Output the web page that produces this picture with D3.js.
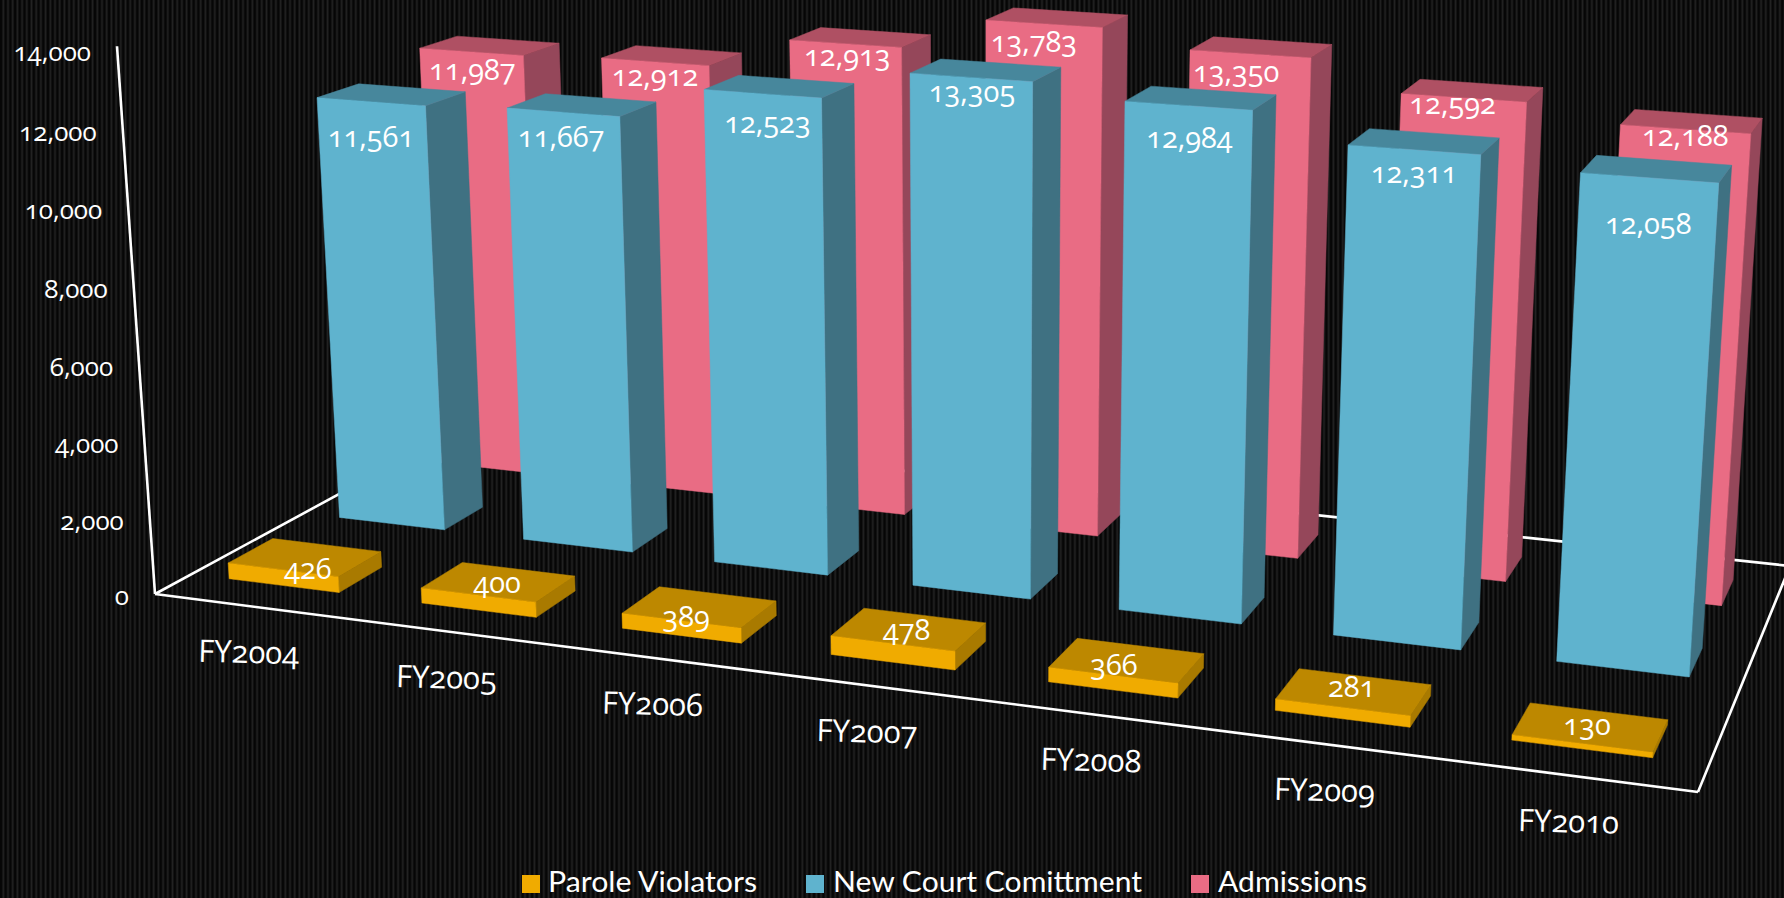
<!DOCTYPE html>
<html><head><meta charset="utf-8">
<script src="https://cdn.jsdelivr.net/npm/d3@7/dist/d3.min.js"></script>
<style>
html,body{margin:0;padding:0;background:#0a0a0a;overflow:hidden}
svg{display:block}
text{font-family:"Open Sans",Lato,sans-serif;fill:#fff;font-variant-numeric:oldstyle-nums;font-feature-settings:"onum" 1,"lnum" 0}
</style></head><body><div id="c"></div>
<script>
const categories=["FY2004","FY2005","FY2006","FY2007","FY2008","FY2009","FY2010"];
const seriesNames=["Parole Violators","New Court Comittment","Admissions"];
const paroleViolators=[426,400,389,478,366,281,130];
const newCourt=[11561,11667,12523,13305,12984,12311,12058];
// bar heights as drawn; the FY2005 bar stands lower than its printed label
const admissions=[11987,12067,12913,13783,13350,12592,12188];
const admissionLabels=[11987,12912,12913,13783,13350,12592,12188];
const tickValues=[0,2000,4000,6000,8000,10000,12000,14000];

const W=1784,H=898;
const floorCorners={A:[155,594],B:[1698,792],C:[1790,566],D:[468,424]};
const topOfAxis=[117,51], vanish=[981,12500];
const palette={
 "Parole Violators":{front:"#F0AB00",top:"#BD8800",side:"#A97A00"},
 "New Court Comittment":{front:"#5FB3CE",top:"#47879C",side:"#3F7182"},
 "Admissions":{front:"#E96C84",top:"#AF5063",side:"#95475A"}};
// hand placement of the value labels, relative to the bar's top front edge
const labelNudge={
 "Parole Violators":[[25,-27],[19,-38],[5,-30],[14,-39],[1,-36],[9,-46],[5,-44]],
 "New Court Comittment":[[0,9],[-2,-1],[5,3],[1,-11],[1,6],[0,-3],[-1,20]],
 "Admissions":[[1,-8],[0,-12],[2,-14],[-10,-8],[-14,-8],[-11,-20],[0,-19]]};
const tickNudge=[0,0,0,0,0,0,2,4];

function camera(){
 const {A,B,C,D}=floorCorners;
 const dx1=B[0]-C[0],dx2=D[0]-C[0],sx=A[0]-B[0]+C[0]-D[0];
 const dy1=B[1]-C[1],dy2=D[1]-C[1],sy=A[1]-B[1]+C[1]-D[1];
 const den=dx1*dy2-dx2*dy1;
 const g=(sx*dy2-dx2*sy)/den,h=(dx1*sy-sx*dy1)/den;
 const a=B[0]*(1+g)-A[0],b=D[0]*(1+h)-A[0],c=A[0];
 const d=B[1]*(1+g)-A[1],e=D[1]*(1+h)-A[1],f=A[1];
 const k=(c-topOfAxis[0])/(topOfAxis[0]-vanish[0]);
 return (u,t,v)=>{
  const w=g*u+h*t+1+k*v;
  return [(a*u+b*t+c+k*vanish[0]*v)/w,(d*u+e*t+f+k*vanish[1]*v)/w];
 };
}
const proj=camera();
const x=d3.scaleBand().domain(categories).range([-.002,.998]).paddingInner(.425).paddingOuter(.2125);
const z=d3.scaleBand().domain(seriesNames).range([0,1]).paddingInner(.61).paddingOuter(.305);
const y=d3.scaleLinear().domain([0,14000]).range([0,1]);

const svg=d3.select("#c").append("svg").attr("width",W).attr("height",H);
const defs=svg.append("defs");
const pat=defs.append("pattern").attr("id","st").attr("width",4.7).attr("height",4).attr("patternUnits","userSpaceOnUse");
pat.append("rect").attr("width",4.7).attr("height",4).attr("fill","#060606");
pat.append("rect").attr("x",2.4).attr("width",1.8).attr("height",4).attr("fill","#222");
svg.append("rect").attr("width",W).attr("height",H).attr("fill","url(#st)");

const line=d3.line();
const g3=svg.append("g");
const segs=[[[0,1,0],[1,1,0]],[[0,0,0],[0,1,0]],[[1,0,0],[1,1,0]],[[0,0,0],[1,0,0]],[[0,0,0],[0,0,1]]];
g3.selectAll("path.ax").data(segs).join("path").attr("class","ax")
 .attr("d",s=>line(s.map(p=>proj(...p)))).attr("stroke","#fff").attr("stroke-width",2.6).attr("fill","none");

const values={"Parole Violators":paroleViolators,"New Court Comittment":newCourt,"Admissions":admissions};
const labelValues={"Parole Violators":paroleViolators,"New Court Comittment":newCourt,"Admissions":admissionLabels};
const bars=[];
[...seriesNames].reverse().forEach(s=>categories.forEach((c,i)=>bars.push({s,c,i,v:values[s][i],l:labelValues[s][i]})));
const gb=svg.append("g");
bars.forEach(b=>{
 const u0=x(b.c),u1=u0+x.bandwidth(),t0=z(b.s),t1=t0+z.bandwidth(),v=y(b.v),col=palette[b.s];
 const f=proj;
 const poly=(pts,fill)=>gb.append("polygon").attr("points",pts.map(p=>p.join(",")).join(" ")).attr("fill",fill).attr("stroke",fill).attr("stroke-width",.5);
 poly([f(u1,t0,0),f(u1,t1,0),f(u1,t1,v),f(u1,t0,v)],col.side);
 poly([f(u0,t0,v),f(u1,t0,v),f(u1,t1,v),f(u0,t1,v)],col.top);
 poly([f(u0,t0,0),f(u1,t0,0),f(u1,t0,v),f(u0,t0,v)],col.front);
});
const fmt=d3.format(",");
bars.forEach(b=>{
 const um=x(b.c)+x.bandwidth()/2,t0=z(b.s),v=y(b.v);
 const p=proj(um,t0,v),n=labelNudge[b.s][b.i];
 gb.append("text").attr("x",p[0]+n[0]).attr("y",p[1]+36+n[1]).attr("text-anchor","middle").attr("font-size",29).text(fmt(b.l));
});
svg.append("g").selectAll("text").data(tickValues).join("text")
 .attr("x",d=>proj(0,0,y(d))[0]-26).attr("y",(d,i)=>proj(0,0,y(d))[1]+11+tickNudge[i])
 .attr("text-anchor","end").attr("font-size",26).text(d=>fmt(d));
svg.append("g").selectAll("text").data(categories).join("text")
 .attr("transform",d=>{const p=proj(x(d)+x.bandwidth()/2,0,0);return `translate(${p[0]},${p[1]+57}) rotate(1.5)`})
 .attr("text-anchor","middle").attr("font-size",31).text(d=>d);
const lx=[522,806,1191],ltx=[548,833,1218],lw=[209,309,149];
const lg=svg.append("g").selectAll("g").data(seriesNames).join("g");
lg.append("rect").attr("x",(d,i)=>lx[i]).attr("y",875).attr("width",18).attr("height",18).attr("fill",d=>palette[d].front);
lg.append("text").attr("x",(d,i)=>ltx[i]).attr("y",892).style("font-family","Lato").attr("font-size",28).attr("textLength",(d,i)=>lw[i]).attr("lengthAdjust","spacingAndGlyphs").text(d=>d);
</script></body></html>
